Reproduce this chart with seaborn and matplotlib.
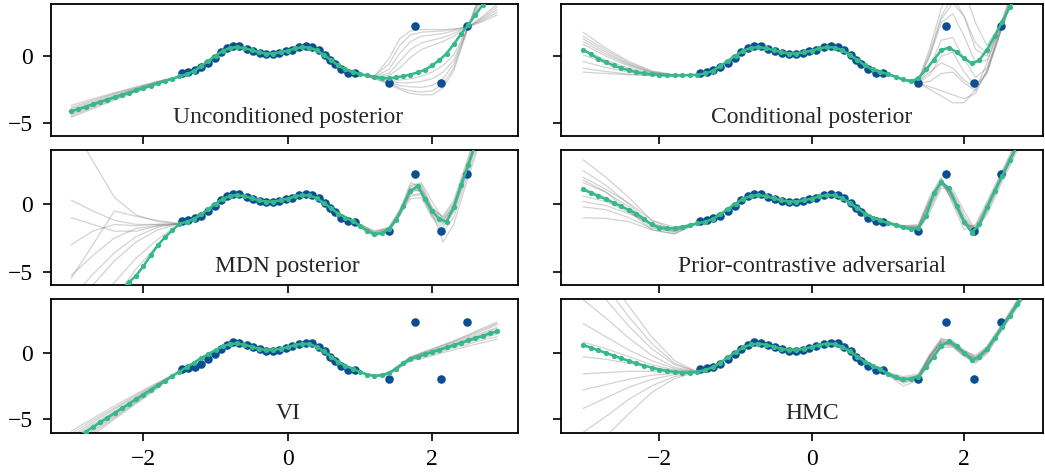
"""
Posterior predictive samples for six inference methods on a 1-D toy regression.
"""
import matplotlib
matplotlib.use("Agg")
import matplotlib.pyplot as plt
import numpy as np
import pandas as pd
import seaborn as sns

# evaluation grid for the mean curves (-3.0 .. 2.9, step 0.1)
x_grid = np.round(np.arange(60) * 0.1 - 3.0, 1)
# knots used for the sample tails (the middle part follows the mean)
LEFT_KNOTS = [-3.0, -2.7, -2.4, -2.1, -1.8]
RIGHT_KNOTS = [1.0, 1.2, 1.4, 1.55, 1.7, 1.85, 2.0, 2.15, 2.3, 2.5, 2.7, 2.9]

train_x = [-1.47, -1.38, -1.29, -1.20, -1.10, -1.01, -0.93, -0.84, -0.76, -0.67,
           -0.57, -0.48, -0.39, -0.30, -0.21, -0.12, -0.03, 0.06, 0.16, 0.25,
           0.34, 0.43, 0.51, 0.58, 0.65, 0.74, 0.84, 0.93]
train_y = [-1.25, -1.18, -1.05, -0.85, -0.5, -0.1, 0.3, 0.58, 0.78, 0.75,
           0.55, 0.4, 0.25, 0.15, 0.13, 0.22, 0.36, 0.5, 0.66, 0.74,
           0.7, 0.45, 0.1, -0.3, -0.6, -1.0, -1.27, -1.3]
outlier_x = [1.40, 1.76, 2.13, 2.49]
outlier_y = [-2.0, 2.28, -2.0, 2.28]

titles = ["Unconditioned posterior", "Conditional posterior", "MDN posterior",
          "Prior-contrastive adversarial", "VI", "HMC"]

mean_uncond = [-4.15, -3.97, -3.80, -3.62, -3.45, -3.27, -3.10, -2.92, -2.75, -2.57,
               -2.40, -2.22, -2.05, -1.87, -1.70,
               -1.52, -1.35, -1.12, -0.75, -0.35, 0.05, 0.4, 0.62, 0.68, 0.6,
               0.45, 0.3, 0.2, 0.2, 0.3, 0.42, 0.58, 0.68, 0.65, 0.45,
               0.1, -0.3, -0.7, -1.0, -1.2,
               -1.35, -1.45, -1.55, -1.62, -1.66, -1.6, -1.5, -1.38, -1.22, -1.02,
               -0.7, -0.3, 0.2, 0.9, 1.65, 2.35, 3.1, 3.85, 4.6, 5.3]
mean_cond = [0.5, 0.15, -0.2, -0.45, -0.7, -0.9, -1.05, -1.2, -1.3, -1.37,
             -1.42, -1.45, -1.45, -1.45, -1.42,
             -1.4, -1.3, -1.1, -0.75, -0.35, 0.05, 0.4, 0.62, 0.68, 0.6,
             0.45, 0.3, 0.2, 0.2, 0.3, 0.42, 0.58, 0.68, 0.65, 0.45,
             0.1, -0.3, -0.7, -1.0, -1.2,
             -1.35, -1.55, -1.75, -1.9, -1.65, -1.0, -0.3, 0.45, 0.65, 0.3,
             -0.15, -0.55, -0.3, 0.5, 1.5, 2.6, 3.7, 4.8, 5.9, 7.0]
mean_mdn = [-12.0, -11.0, -10.1, -9.2, -8.4, -7.6, -6.9, -6.3, -5.8, -5.3,
            -4.6, -3.8, -3.05, -2.45, -1.95,
            -1.45, -1.3, -1.1, -0.75, -0.35, 0.05, 0.4, 0.62, 0.68, 0.6,
            0.45, 0.3, 0.2, 0.2, 0.3, 0.42, 0.58, 0.68, 0.65, 0.45,
            0.1, -0.3, -0.7, -1.0, -1.25,
            -1.6, -2.0, -2.2, -2.15, -1.85, -1.2, -0.1, 1.0, 1.35, 0.4,
            -0.5, -1.1, -1.3, -0.2, 1.4, 2.9, 4.5, 6.1, 7.5, 8.8]
mean_pca = [1.1, 0.85, 0.6, 0.37, 0.1, -0.15, -0.42, -0.7, -1.1, -1.5,
            -1.75, -1.8, -1.78, -1.7, -1.55,
            -1.42, -1.3, -1.1, -0.75, -0.35, 0.05, 0.4, 0.62, 0.68, 0.6,
            0.45, 0.3, 0.2, 0.2, 0.3, 0.42, 0.58, 0.68, 0.65, 0.45,
            0.1, -0.3, -0.7, -1.0, -1.2,
            -1.4, -1.55, -1.7, -1.85, -1.75, -0.9, 0.8, 1.65, 1.2, -0.1,
            -1.3, -2.1, -1.5, -0.2, 1.0, 2.1, 3.3, 4.4, 5.6, 6.8]
mean_vi = [-6.65, -6.3, -5.95, -5.6, -5.25, -4.9, -4.55, -4.2, -3.85, -3.5,
           -3.15, -2.8, -2.45, -2.1, -1.75,
           -1.42, -1.1, -0.75, -0.4, -0.1, 0.2, 0.48, 0.65, 0.7, 0.6,
           0.45, 0.3, 0.2, 0.2, 0.3, 0.42, 0.58, 0.68, 0.65, 0.45,
           0.1, -0.3, -0.7, -1.0, -1.2,
           -1.45, -1.65, -1.75, -1.7, -1.55, -1.2, -0.8, -0.45, -0.3, -0.12,
           0.05, 0.22, 0.4, 0.57, 0.75, 0.92, 1.1, 1.27, 1.45, 1.6]
mean_hmc = [0.58, 0.38, 0.18, -0.02, -0.22, -0.42, -0.62, -0.8, -0.97, -1.12,
            -1.27, -1.37, -1.45, -1.5, -1.5,
            -1.45, -1.3, -1.1, -0.75, -0.35, 0.05, 0.4, 0.62, 0.68, 0.6,
            0.45, 0.3, 0.2, 0.2, 0.3, 0.42, 0.58, 0.68, 0.65, 0.45,
            0.1, -0.3, -0.7, -1.0, -1.25,
            -1.6, -1.85, -2.0, -1.95, -1.8, -1.1, -0.3, 0.5, 0.85, 0.5,
            0.0, -0.55, -0.3, 0.3, 1.1, 1.95, 2.8, 3.7, 4.6, 5.5]

# sample tails, left part at LEFT_KNOTS and right part at RIGHT_KNOTS
left_uncond = [[-3.7, -3.2, -2.75, -2.3, -1.9], [-3.85, -3.3, -2.8, -2.35, -1.9],
               [-3.95, -3.4, -2.85, -2.4, -1.95], [-4.05, -3.5, -2.95, -2.45, -1.95],
               [-4.15, -3.55, -3.0, -2.45, -1.95], [-4.2, -3.6, -3.05, -2.5, -2.0],
               [-4.3, -3.7, -3.1, -2.55, -2.0], [-4.4, -3.75, -3.15, -2.6, -2.05],
               [-4.5, -3.85, -3.25, -2.6, -2.05], [-4.6, -3.95, -3.3, -2.7, -2.1]]
right_uncond = [[-1.35, -1.5, -0.2, 1.3, 1.9, 2.0, 2.0, 2.0, 2.05, 2.2, 2.6, 3.1],
                [-1.35, -1.5, -0.6, 0.8, 1.6, 1.8, 1.85, 1.9, 2.0, 2.2, 2.7, 3.3],
                [-1.35, -1.55, -1.0, 0.2, 1.1, 1.5, 1.6, 1.7, 1.9, 2.2, 2.8, 3.5],
                [-1.35, -1.55, -1.3, -0.4, 0.5, 1.0, 1.2, 1.4, 1.7, 2.2, 2.9, 3.7],
                [-1.35, -1.6, -1.45, -0.9, -0.1, 0.5, 0.8, 1.1, 1.5, 2.2, 3.0, 3.9],
                [-1.35, -1.6, -1.75, -1.8, -1.7, -1.5, -1.2, -0.7, 0.1, 2.2, 4.3, 6.3],
                [-1.35, -1.6, -1.85, -2.0, -2.0, -1.9, -1.7, -1.2, -0.3, 2.2, 4.6, 6.8],
                [-1.35, -1.65, -1.95, -2.2, -2.3, -2.35, -2.2, -1.7, -0.6, 2.2, 4.9, 7.2],
                [-1.35, -1.65, -2.0, -2.4, -2.6, -2.7, -2.6, -2.1, -0.9, 2.2, 5.1, 7.5],
                [-1.35, -1.7, -2.1, -2.5, -2.8, -2.9, -2.9, -2.4, -1.1, 2.2, 5.3, 8.0]]

left_cond = [[1.8, 0.6, -0.4, -1.1, -1.4], [1.3, 0.3, -0.6, -1.2, -1.45],
             [0.9, 0.0, -0.75, -1.25, -1.45], [0.5, -0.3, -0.9, -1.3, -1.45],
             [0.1, -0.55, -1.05, -1.35, -1.45], [-0.4, -0.85, -1.2, -1.4, -1.45],
             [-0.9, -1.15, -1.35, -1.45, -1.45], [1.5, 0.45, -0.5, -1.15, -1.42],
             [1.1, 0.15, -0.65, -1.2, -1.45], [-1.2, -1.3, -1.4, -1.45, -1.45]]
right_cond = [[-1.3, -1.75, -1.9, 0.0, 2.5, 3.2, 1.5, -0.5, -0.3, 2.2, 5.5, 8.0],
              [-1.3, -1.75, -1.85, 0.3, 3.0, 4.5, 3.0, 0.5, 0.0, 2.4, 5.8, 8.0],
              [-1.3, -1.75, -1.8, 0.6, 3.6, 5.5, 5.0, 2.5, 0.8, 2.6, 6.0, 8.0],
              [-1.3, -1.75, -2.0, -0.8, 1.2, 1.4, -0.2, -1.6, -0.9, 2.2, 5.5, 8.0],
              [-1.3, -1.75, -2.0, -1.4, 0.0, 0.3, -1.2, -2.2, -1.2, 2.2, 5.5, 8.0],
              [-1.3, -1.75, -2.0, -1.9, -1.3, -1.2, -2.0, -2.6, -1.2, 2.3, 5.5, 8.0],
              [-1.3, -1.8, -2.0, -2.3, -2.6, -2.9, -3.2, -2.8, -1.0, 2.5, 6.0, 8.0],
              [-1.3, -1.8, -2.0, -2.5, -3.0, -3.5, -3.5, -2.5, -0.5, 2.8, 6.0, 8.0],
              [-1.3, -1.75, -1.9, -1.2, -0.5, -0.9, -1.8, -2.4, -1.3, 2.2, 5.5, 8.0],
              [-1.3, -1.75, -1.85, 0.1, 2.8, 4.0, 3.0, 1.0, 0.2, 2.3, 5.5, 8.0]]

left_mdn = [[6.0, 3.2, 0.5, -0.8, -1.3], [0.3, -0.5, -1.2, -1.5, -1.5],
            [-5.5, -3.0, -0.5, -0.9, -1.2], [-5.3, -3.8, -2.5, -1.8, -1.6],
            [-8.0, -6.0, -4.2, -2.8, -1.9], [-9.0, -7.5, -5.8, -4.0, -2.6],
            [-7.0, -5.2, -3.6, -2.4, -1.7], [-1.0, -1.5, -2.0, -2.0, -1.6],
            [-11.0, -9.0, -7.0, -4.8, -3.0], [-3.0, -2.0, -1.5, -1.6, -1.5]]
right_mdn = [[-1.5, -2.0, -1.7, -0.4, 1.3, 1.5, -0.2, -1.0, 0.1, 3.3, 6.5, 9.0],
             [-1.7, -2.3, -2.0, -0.9, 0.7, 0.8, -0.8, -1.5, -0.5, 2.7, 6.0, 8.5],
             [-1.6, -2.1, -1.8, -0.6, 1.6, 1.3, -0.4, -0.9, 0.3, 3.5, 6.8, 9.0],
             [-1.7, -2.2, -1.9, -0.8, 0.4, 0.5, -1.0, -2.0, -1.0, 2.3, 5.5, 8.0],
             [-1.6, -2.3, -1.9, -0.5, 1.2, 0.9, -0.6, -2.8, -1.5, 2.0, 5.2, 8.0],
             [-1.5, -2.1, -1.8, -0.7, 0.9, 1.1, -0.5, -1.3, 0.0, 3.1, 6.3, 9.0],
             [-1.6, -2.2, -2.0, -0.8, 1.4, 1.6, 0.2, -1.1, -0.3, 2.9, 6.1, 8.8],
             [-1.7, -2.4, -2.0, -0.6, 0.6, 0.7, -0.9, -1.7, -0.6, 2.6, 5.8, 8.5],
             [-1.6, -2.2, -1.9, -0.7, 1.0, 1.2, -0.3, -1.2, -0.2, 3.0, 6.2, 8.9],
             [-1.5, -2.0, -1.8, -0.6, 1.1, 1.0, -0.6, -1.4, -0.4, 2.8, 6.0, 8.6]]

left_pca = [[3.3, 2.0, 0.5, -1.2, -1.9], [2.5, 1.4, 0.0, -1.5, -2.0],
            [2.0, 1.1, 0.1, -1.2, -1.7], [1.6, 0.9, -0.2, -1.6, -2.0],
            [1.2, 0.5, -0.5, -1.7, -2.1], [0.6, 0.2, -0.6, -1.5, -1.8],
            [-0.2, -0.4, -1.0, -1.8, -2.0], [-1.0, -1.05, -1.3, -1.9, -2.2],
            [1.8, 0.9, -0.5, -1.9, -2.2], [0.2, -0.1, -0.7, -1.4, -1.9]]
right_pca = [[-1.4, -1.7, -1.8, -0.4, 1.4, 0.9, -0.8, -2.0, -0.6, 1.9, 4.2, 6.5],
             [-1.4, -1.7, -1.6, 0.4, 1.9, 0.2, -1.6, -1.6, 0.0, 2.3, 4.6, 7.0],
             [-1.4, -1.8, -1.9, -0.2, 1.5, 0.7, -1.1, -2.2, -0.5, 2.0, 4.3, 6.6],
             [-1.3, -1.6, -1.5, 0.6, 2.0, 0.0, -1.9, -1.5, 0.2, 2.5, 4.9, 7.3],
             [-1.4, -1.7, -1.7, 0.1, 1.7, 0.4, -1.4, -1.9, -0.3, 2.0, 4.3, 6.7],
             [-1.4, -1.8, -2.0, -0.6, 1.2, 1.1, -0.5, -1.9, -0.8, 1.7, 4.0, 6.3],
             [-1.4, -1.7, -1.7, 0.2, 1.8, 0.6, -1.2, -2.3, -0.4, 2.2, 4.5, 6.9],
             [-1.3, -1.6, -1.6, 0.3, 1.6, 0.3, -1.5, -1.7, -0.1, 2.4, 4.7, 7.1],
             [-1.4, -1.75, -1.85, -0.1, 1.6, 0.8, -1.0, -2.1, -0.3, 2.1, 4.4, 6.8],
             [-1.35, -1.65, -1.65, 0.2, 1.75, 0.5, -1.3, -1.8, -0.2, 2.2, 4.5, 6.9]]

left_vi = [[-5.9, -4.95, -4.0, -3.1, -2.25], [-6.1, -5.1, -4.15, -3.2, -2.3],
           [-6.3, -5.25, -4.25, -3.3, -2.35], [-6.45, -5.4, -4.4, -3.4, -2.4],
           [-6.6, -5.55, -4.5, -3.45, -2.45], [-6.75, -5.65, -4.6, -3.55, -2.5],
           [-6.9, -5.8, -4.7, -3.6, -2.5], [-7.05, -5.9, -4.8, -3.7, -2.55],
           [-7.2, -6.05, -4.9, -3.75, -2.6], [-7.4, -6.2, -5.0, -3.85, -2.65]]
right_vi = [[-1.45, -1.75, -1.5, -0.9, -0.3, 0.0, 0.3, 0.6, 0.9, 1.35, 1.85, 2.3],
            [-1.45, -1.75, -1.5, -0.95, -0.35, -0.05, 0.2, 0.5, 0.8, 1.2, 1.65, 2.1],
            [-1.45, -1.75, -1.55, -0.95, -0.4, -0.1, 0.15, 0.4, 0.7, 1.1, 1.5, 1.9],
            [-1.45, -1.75, -1.55, -1.0, -0.45, -0.2, 0.05, 0.3, 0.57, 0.92, 1.3, 1.65],
            [-1.45, -1.8, -1.6, -1.05, -0.5, -0.3, -0.05, 0.2, 0.45, 0.8, 1.1, 1.4],
            [-1.45, -1.8, -1.6, -1.1, -0.55, -0.35, -0.15, 0.1, 0.35, 0.65, 0.95, 1.2],
            [-1.45, -1.8, -1.65, -1.15, -0.6, -0.45, -0.25, 0.0, 0.2, 0.5, 0.75, 1.0],
            [-1.45, -1.75, -1.5, -0.9, -0.35, -0.05, 0.25, 0.55, 0.85, 1.3, 1.75, 2.2],
            [-1.45, -1.75, -1.55, -1.0, -0.45, -0.15, 0.1, 0.35, 0.62, 1.0, 1.4, 1.8],
            [-1.45, -1.8, -1.6, -1.05, -0.5, -0.25, 0.0, 0.25, 0.5, 0.85, 1.2, 1.5]]

left_hmc = [[9.0, 6.0, 3.5, 1.2, -0.6], [6.0, 4.0, 2.0, 0.3, -0.9],
            [4.0, 2.6, 1.1, -0.2, -1.1], [2.2, 1.2, 0.2, -0.6, -1.2],
            [0.8, 0.3, -0.3, -0.9, -1.3], [-0.3, -0.5, -0.8, -1.1, -1.35],
            [-1.6, -1.5, -1.4, -1.4, -1.45], [-2.8, -2.4, -2.0, -1.7, -1.55],
            [-4.2, -3.4, -2.6, -2.0, -1.65], [-6.0, -4.8, -3.5, -2.5, -1.8],
            [7.5, 5.0, 2.7, 0.7, -0.8], [-8.0, -6.3, -4.6, -3.0, -1.95]]
right_hmc = [[-1.5, -1.9, -1.7, -0.2, 1.0, 0.9, 0.2, -0.3, 0.4, 2.1, 3.8, 5.6],
             [-1.7, -2.2, -1.9, -0.5, 0.5, 0.5, -0.2, -0.7, 0.0, 1.8, 3.6, 5.3],
             [-1.6, -2.1, -1.8, -0.3, 0.9, 0.6, -0.1, -0.4, 0.3, 2.0, 3.9, 5.8],
             [-1.7, -2.5, -2.1, -0.7, 0.4, 0.4, -0.3, -0.8, -0.1, 1.7, 3.4, 5.1],
             [-1.5, -1.8, -1.6, -0.1, 1.1, 0.8, 0.1, -0.2, 0.5, 2.2, 4.0, 5.9],
             [-1.6, -2.0, -1.9, -0.6, 0.6, 0.7, 0.0, -0.6, 0.1, 1.9, 3.7, 5.4],
             [-1.6, -2.3, -2.0, -0.4, 0.8, 0.5, -0.2, -0.5, 0.2, 2.0, 3.8, 5.6],
             [-1.7, -2.1, -1.7, -0.2, 0.7, 0.8, 0.1, -0.4, 0.2, 1.9, 3.5, 5.2],
             [-1.6, -2.0, -1.8, -0.3, 0.85, 0.7, 0.0, -0.45, 0.25, 1.95, 3.7, 5.5],
             [-1.55, -1.95, -1.75, -0.35, 0.75, 0.6, -0.05, -0.5, 0.15, 1.9, 3.6, 5.4],
             [-1.65, -2.2, -1.95, -0.45, 0.65, 0.55, -0.15, -0.6, 0.05, 1.85, 3.55, 5.3],
             [-1.6, -2.05, -1.8, -0.25, 0.95, 0.75, 0.05, -0.35, 0.35, 2.05, 3.85, 5.7]]

BLUE = "#0b4f92"
GREEN = "#36b98a"
GRAY = "#808080"


def sample_frame(mean, left, right):
    """Long-form table of posterior samples: own tails, shared middle part."""
    core_x = list(x_grid[15:40])
    core_y = list(mean[15:40])
    frames = []
    for i, (l, r) in enumerate(zip(left, right)):
        frames.append(pd.DataFrame({
            "x": LEFT_KNOTS + core_x + RIGHT_KNOTS,
            "y": l + core_y + r,
            "sample": i,
        }))
    return pd.concat(frames, ignore_index=True)


panels = [
    (mean_uncond, left_uncond, right_uncond),
    (mean_cond, left_cond, right_cond),
    (mean_mdn, left_mdn, right_mdn),
    (mean_pca, left_pca, right_pca),
    (mean_vi, left_vi, right_vi),
    (mean_hmc, left_hmc, right_hmc),
]

sns.set_theme(style="ticks")
plt.rcParams["font.family"] = ["Liberation Serif", "DejaVu Serif"]
plt.rcParams["axes.unicode_minus"] = True

W, H = 1045, 473
fig, axes = plt.subplots(3, 2, figsize=(W / 100, H / 100), dpi=100)

col_px = [(51, 518), (561, 1043)]
row_px = [(4.3, 136), (150, 285), (299.3, 433.3)]
col_xlim = [(-3.28, 3.19), (-3.29, 3.035)]
row_ylim = [(-6.0, 3.9), (-6.0, 4.03), (-6.07, 4.02)]

for k, (mean, left, right) in enumerate(panels):
    r, c = divmod(k, 2)
    ax = axes[r, c]
    x0, x1 = col_px[c]
    y0, y1 = row_px[r]
    ax.set_position([x0 / W, 1 - y1 / H, (x1 - x0) / W, (y1 - y0) / H])

    df = sample_frame(mean, left, right)
    sns.lineplot(data=df, x="x", y="y", units="sample", estimator=None,
                 sort=False, color=GRAY, alpha=0.35, lw=0.9, ax=ax,
                 legend=False, zorder=1)
    sns.scatterplot(x=train_x + outlier_x, y=train_y + outlier_y, ax=ax,
                    color=BLUE, s=38, linewidth=0, zorder=3, legend=False)
    sns.lineplot(x=x_grid, y=mean, ax=ax, color=GREEN, lw=1.8, marker="o",
                 markersize=3.8, markeredgewidth=0, zorder=4)

    ax.text(0, -5, titles[k], ha="center", va="baseline", fontsize=17)

    ax.set_xlim(*col_xlim[c])
    ax.set_ylim(*row_ylim[r])
    ax.set_xticks([-2, 0, 2])
    ax.set_yticks([-5, 0])
    ax.set_xlabel("")
    ax.set_ylabel("")
    ax.tick_params(axis="both", labelsize=17, length=6, width=1.2,
                   color="black", labelcolor="black")
    ax.tick_params(axis="x", pad=5)
    ax.tick_params(axis="y", pad=7)
    ax.tick_params(labelbottom=(r == 2), labelleft=(c == 0))
    for spine in ax.spines.values():
        spine.set_visible(True)
        spine.set_linewidth(1.3)
        spine.set_color("black")

fig.savefig("out.png", dpi=100)
